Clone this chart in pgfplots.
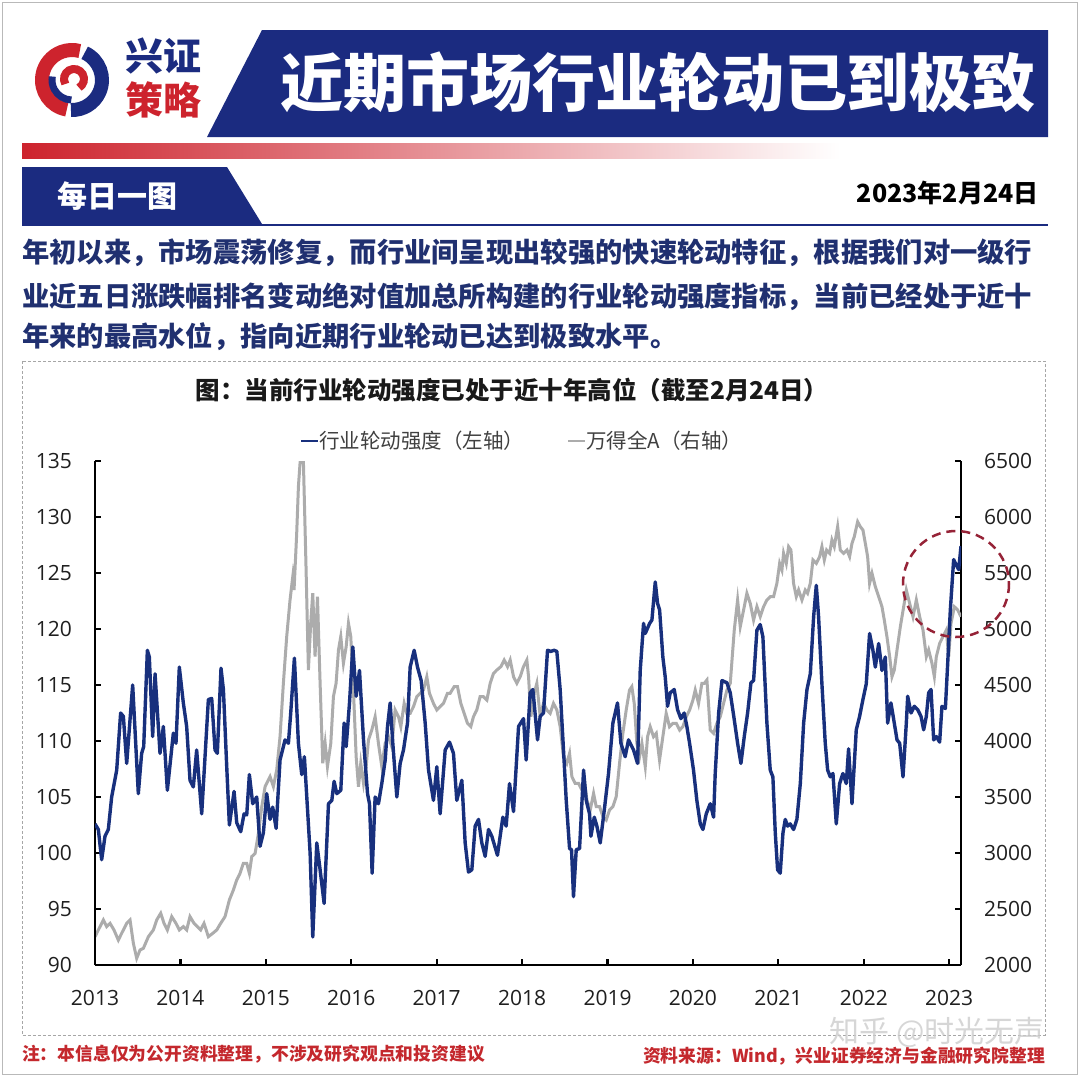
\documentclass[border=0pt]{standalone}
\usepackage{fontspec}
\setmainfont{Open Sans}
\newfontfamily\cjk{Noto Sans CJK SC}
\usepackage{pgfplots}
\pgfplotsset{compat=1.18}
\definecolor{navy}{RGB}{27,43,128}
\definecolor{textnavy}{RGB}{32,48,112}
\definecolor{lineblue}{RGB}{24,48,125}
\definecolor{linegray}{RGB}{172,172,172}
\definecolor{notered}{RGB}{196,40,45}
\definecolor{logored}{RGB}{205,35,45}
\definecolor{circred}{RGB}{150,35,55}

\pgfplotsset{
  twin/.style={
    at={(95pt,-965pt)}, anchor=south west, scale only axis,
    width=866pt, height=504pt,
    xmin=2013, xmax=2023.137,
    tick align=inside, major tick length=6pt,
    tick style={black, line width=2.2pt},
    axis line style={black, line width=2.5pt},
    tick label style={font=\fontsize{21}{21}\selectfont, text=black!88, inner sep=0pt},
    /pgf/number format/assume math mode=true,
    /pgf/number format/1000 sep={},
  }
}

\begin{document}
\begin{tikzpicture}[x=1pt,y=-1pt]
\useasboundingbox (0,0) rectangle (1080,1077);
\fill[white] (0,0) rectangle (1080,1077);
\draw[gray!55, line width=1.5pt] (2.5,2.5) rectangle (1077.5,1074.5);

% header: logo swirl
\draw[logored, line width=14pt] (72,80) ++(100:30) arc[start angle=100, end angle=285, radius=30];
\draw[navy, line width=14pt] (72,80) ++(-65:30) arc[start angle=-65, end angle=92, radius=30];
\draw[logored, line width=8pt] (74,79) ++(150:10) arc[start angle=150, end angle=420, radius=10];
\draw[navy, line width=7pt] (72,80) ++(92:20) arc[start angle=92, end angle=190, radius=20];
\node[font=\cjk\bfseries\fontsize{38}{38}\selectfont, text=navy] at (163,56) {兴证};
\node[font=\cjk\bfseries\fontsize{38}{38}\selectfont, text=logored] at (163,100) {策略};
\fill[navy] (262,30) -- (1048,30) -- (1048,137) -- (207,137) -- cycle;
\node[font=\cjk\bfseries\fontsize{63}{63}\selectfont, text=white] at (658,82) {近期市场行业轮动已到极致};
\shade[left color=logored, right color=white] (22,143) rectangle (840,158);
\fill[navy] (22,167) -- (227,167) -- (262,224) -- (22,224) -- cycle;
\node[font=\cjk\bfseries\fontsize{30}{30}\selectfont, text=white] at (117,196) {每日一图};
\draw[navy, line width=1.5pt] (22,225) -- (1048,225);
\node[font=\cjk\bfseries\fontsize{25}{25}\selectfont, text=black, anchor=east] at (1042,193) {2023年2月24日};

% paragraph
\begin{scope}[every node/.style={anchor=west, inner sep=0pt, text=textnavy, font=\cjk\bfseries\fontsize{27.3}{27.3}\selectfont}]
\node at (22,253) {年初以来，市场震荡修复，而行业间呈现出较强的快速轮动特征，根据我们对一级行};
\node at (22,297) {业近五日涨跌幅排名变动绝对值加总所构建的行业轮动强度指标，当前已经处于近十};
\node at (22,337) {年来的最高水位，指向近期行业轮动已达到极致水平。};
\end{scope}

% chart frame and titles
\draw[gray!70, line width=1pt, dash pattern=on 3pt off 2pt] (22,361) rectangle (1045,1035);
\node[font=\cjk\bfseries\fontsize{24.5}{24.5}\selectfont, text=black!90] at (512,390) {图：当前行业轮动强度已处于近十年高位（截至2月24日）};
\draw[lineblue, line width=2.5pt] (301,441) -- (318,441);
\node[anchor=west, inner sep=0pt, font=\cjk\fontsize{20.5}{20.5}\selectfont, text=black!75] at (319,441) {行业轮动强度（左轴）};
\draw[linegray, line width=2.5pt] (568,441) -- (585,441);
\node[anchor=west, inner sep=0pt, font=\cjk\fontsize{20.5}{20.5}\selectfont, text=black!75] at (586,441) {万得全A（右轴）};

% right axis: Wind All A
\begin{axis}[twin,
  axis y line*=right, axis x line=none, xtick=\empty,
  ymin=2000, ymax=6500, ytick={2000,2500,...,6500},
  yticklabel style={xshift=23pt},
]
\addplot[linegray, line width=3pt] coordinates {
(2013.000,2253) (2013.039,2313) (2013.098,2402) (2013.137,2343) (2013.176,2372)
(2013.222,2313) (2013.273,2223) (2013.312,2283) (2013.371,2372) (2013.410,2402)
(2013.449,2194) (2013.488,2060) (2013.527,2134) (2013.566,2149) (2013.625,2253)
(2013.683,2313) (2013.722,2402) (2013.769,2462) (2013.808,2372) (2013.847,2313)
(2013.898,2432) (2013.948,2372) (2013.987,2313) (2014.034,2343) (2014.073,2313)
(2014.112,2432) (2014.159,2372) (2014.198,2343) (2014.237,2313) (2014.276,2372)
(2014.327,2253) (2014.378,2283) (2014.425,2313) (2014.471,2372) (2014.522,2432)
(2014.573,2581) (2014.620,2670) (2014.659,2759) (2014.698,2819) (2014.737,2908)
(2014.776,2908) (2014.807,2819) (2014.835,2968) (2014.874,2997) (2014.913,3176)
(2014.952,3414) (2014.991,3593) (2015.049,3682) (2015.088,3593) (2015.127,3741)
(2015.166,4039) (2015.205,4515) (2015.244,4932) (2015.283,5259) (2015.315,5467)
(2015.330,5348) (2015.361,5854) (2015.381,6271) (2015.400,6479) (2015.420,6620)
(2015.439,6509) (2015.470,5557) (2015.498,4634) (2015.525,5051) (2015.549,5319)
(2015.576,4753) (2015.604,5289) (2015.635,4515) (2015.666,3801) (2015.694,3979)
(2015.721,3771) (2015.760,3979) (2015.791,4396) (2015.822,4515) (2015.850,4813)
(2015.877,4932) (2015.908,4694) (2015.940,4842) (2015.967,5051) (2015.994,4932)
(2016.025,4455) (2016.057,3860) (2016.084,3592) (2016.111,3801) (2016.143,3622)
(2016.174,3771) (2016.201,4009) (2016.240,4098) (2016.279,4217) (2016.318,3979)
(2016.357,3771) (2016.397,3979) (2016.436,4039) (2016.474,3950) (2016.513,4277)
(2016.553,4217) (2016.580,4128) (2016.619,4336) (2016.650,4247) (2016.689,4247)
(2016.728,4307) (2016.767,4396) (2016.806,4426) (2016.845,4455) (2016.884,4574)
(2016.915,4426) (2016.962,4336) (2017.001,4277) (2017.040,4307) (2017.079,4336)
(2017.126,4426) (2017.157,4426) (2017.204,4485) (2017.243,4485) (2017.282,4336)
(2017.321,4247) (2017.360,4158) (2017.399,4128) (2017.430,4217) (2017.469,4277)
(2017.508,4396) (2017.547,4396) (2017.587,4366) (2017.626,4515) (2017.665,4604)
(2017.704,4634) (2017.751,4664) (2017.790,4723) (2017.829,4664) (2017.860,4723)
(2017.899,4574) (2017.938,4515) (2017.977,4574) (2018.016,4664) (2018.055,4723)
(2018.075,4574) (2018.102,4217) (2018.141,4426) (2018.172,4515) (2018.211,4217)
(2018.250,4336) (2018.289,4277) (2018.328,4247) (2018.367,4336) (2018.406,4277)
(2018.445,4128) (2018.484,3860) (2018.523,3801) (2018.555,3890) (2018.582,3682)
(2018.621,3622) (2018.660,3622) (2018.699,3563) (2018.727,3652) (2018.758,3473)
(2018.797,3384) (2018.836,3533) (2018.867,3414) (2018.906,3414) (2018.945,3325)
(2018.984,3295) (2019.023,3384) (2019.062,3414) (2019.101,3503) (2019.140,3801)
(2019.179,4069) (2019.218,4277) (2019.257,4455) (2019.284,4485) (2019.312,4336)
(2019.343,3979) (2019.374,3860) (2019.402,3979) (2019.441,3771) (2019.468,4039)
(2019.499,4128) (2019.538,4039) (2019.570,4069) (2019.608,3830) (2019.647,4039)
(2019.686,4247) (2019.725,4128) (2019.765,4158) (2019.804,4158) (2019.843,4098)
(2019.882,4128) (2019.921,4217) (2019.960,4277) (2019.999,4366) (2020.026,4455)
(2020.065,4336) (2020.104,4515) (2020.132,4515) (2020.163,4545) (2020.202,4098)
(2020.241,4069) (2020.280,4158) (2020.319,4217) (2020.358,4336) (2020.397,4455)
(2020.436,4515) (2020.483,4991) (2020.522,5259) (2020.553,5021) (2020.592,5170)
(2020.631,5319) (2020.670,5229) (2020.709,5080) (2020.748,5199) (2020.787,5110)
(2020.826,5199) (2020.865,5259) (2020.904,5289) (2020.943,5289) (2020.982,5408)
(2021.014,5586) (2021.041,5527) (2021.060,5676) (2021.092,5586) (2021.119,5735)
(2021.146,5705) (2021.177,5408) (2021.209,5289) (2021.236,5348) (2021.275,5259)
(2021.314,5348) (2021.341,5319) (2021.373,5408) (2021.404,5616) (2021.443,5586)
(2021.482,5646) (2021.509,5735) (2021.537,5616) (2021.564,5705) (2021.599,5676)
(2021.626,5795) (2021.654,5735) (2021.693,5914) (2021.724,5705) (2021.763,5676)
(2021.802,5705) (2021.833,5646) (2021.861,5765) (2021.888,5825) (2021.927,5958)
(2021.958,5914) (2021.989,5884) (2022.017,5765) (2022.044,5646) (2022.067,5408)
(2022.095,5497) (2022.134,5378) (2022.173,5289) (2022.212,5199) (2022.239,5080)
(2022.270,4932) (2022.302,4753) (2022.329,4574) (2022.356,4634) (2022.388,4813)
(2022.427,5021) (2022.466,5199) (2022.497,5348) (2022.536,5229) (2022.575,5110)
(2022.614,5259) (2022.653,5110) (2022.692,4991) (2022.731,4753) (2022.758,4813)
(2022.797,4694) (2022.825,4574) (2022.848,4753) (2022.887,4872) (2022.926,4932)
(2022.965,4991) (2022.993,4753) (2023.020,5051) (2023.059,5199) (2023.098,5170)
(2023.137,5110)
};
\end{axis}

% left axis: rotation intensity
\begin{axis}[twin,
  axis y line*=left, axis x line*=bottom,
  ymin=90, ymax=135, ytick={90,95,...,135},
  xtick={2013,2014,...,2023},
  yticklabel style={xshift=-23pt},
  xticklabel style={yshift=-25pt},
]
\addplot[lineblue, line width=3.4pt, line join=round] coordinates {
(2013.000,102.6) (2013.039,102.1) (2013.078,99.4) (2013.117,101.5) (2013.156,102.1)
(2013.195,105.0) (2013.254,107.4) (2013.300,112.5) (2013.332,112.2) (2013.371,108.0)
(2013.441,115.0) (2013.507,105.3) (2013.546,108.9) (2013.570,109.5) (2013.613,118.1)
(2013.636,117.5) (2013.675,110.4) (2013.703,116.0) (2013.761,108.9) (2013.800,111.3)
(2013.847,105.6) (2013.917,110.7) (2013.948,109.8) (2013.987,116.6) (2014.034,113.4)
(2014.073,111.3) (2014.112,106.5) (2014.151,105.9) (2014.190,109.2) (2014.249,103.5)
(2014.288,108.6) (2014.327,113.7) (2014.366,113.8) (2014.405,109.2) (2014.432,108.9)
(2014.475,116.5) (2014.503,114.6) (2014.542,107.7) (2014.573,102.5) (2014.628,105.5)
(2014.659,102.7) (2014.706,101.9) (2014.745,103.5) (2014.776,103.4) (2014.807,107.0)
(2014.846,104.4) (2014.893,105.0) (2014.932,100.6) (2014.971,101.8) (2015.010,105.3)
(2015.049,103.0) (2015.080,104.1) (2015.120,102.2) (2015.166,108.3) (2015.225,110.1)
(2015.264,109.8) (2015.291,112.5) (2015.334,117.4) (2015.381,109.8) (2015.420,107.0)
(2015.451,108.6) (2015.518,100.0) (2015.549,92.5) (2015.596,100.9) (2015.635,98.5)
(2015.682,95.5) (2015.733,104.4) (2015.772,104.7) (2015.799,106.4) (2015.830,105.3)
(2015.877,105.6) (2015.916,111.6) (2015.940,109.5) (2015.979,113.4) (2016.018,118.4)
(2016.057,114.0) (2016.096,116.3) (2016.143,110.1) (2016.190,105.3) (2016.213,104.4)
(2016.244,98.2) (2016.279,105.0) (2016.318,104.4) (2016.357,106.2) (2016.397,108.3)
(2016.424,111.3) (2016.455,113.4) (2016.486,109.8) (2016.533,105.0) (2016.572,108.0)
(2016.611,109.2) (2016.658,111.6) (2016.689,116.6) (2016.736,118.1) (2016.775,116.6)
(2016.818,115.4) (2016.865,111.6) (2016.904,107.4) (2016.962,104.7) (2017.001,107.7)
(2017.040,103.5) (2017.099,109.2) (2017.150,109.9) (2017.196,108.9) (2017.235,104.7)
(2017.294,106.5) (2017.333,100.9) (2017.372,98.3) (2017.411,98.5) (2017.450,102.4)
(2017.489,103.0) (2017.528,100.9) (2017.567,99.7) (2017.606,102.1) (2017.645,101.5)
(2017.711,99.8) (2017.774,103.2) (2017.813,102.4) (2017.852,106.2) (2017.899,103.7)
(2017.958,111.3) (2018.016,112.0) (2018.047,108.3) (2018.094,114.3) (2018.125,114.6)
(2018.133,114.0) (2018.180,110.1) (2018.211,112.2) (2018.250,112.5) (2018.297,118.1)
(2018.336,118.0) (2018.375,118.1) (2018.406,118.0) (2018.445,114.6) (2018.484,109.2)
(2018.516,104.7) (2018.555,100.4) (2018.578,100.3) (2018.601,96.1) (2018.633,100.3)
(2018.672,100.4) (2018.699,104.4) (2018.719,107.4) (2018.750,104.7) (2018.789,103.5)
(2018.805,101.5) (2018.844,103.2) (2018.875,102.4) (2018.914,100.9) (2018.961,103.8)
(2019.011,107.1) (2019.062,111.6) (2019.116,113.4) (2019.156,109.8) (2019.206,108.6)
(2019.245,110.1) (2019.304,109.2) (2019.351,108.0) (2019.382,116.3) (2019.421,120.5)
(2019.441,119.6) (2019.492,120.5) (2019.519,120.8) (2019.558,124.2) (2019.585,122.3)
(2019.609,121.7) (2019.647,117.5) (2019.675,115.7) (2019.702,113.1) (2019.733,114.3)
(2019.780,114.6) (2019.819,112.8) (2019.858,112.0) (2019.897,112.5) (2019.928,111.3)
(2019.960,109.8) (2020.006,107.4) (2020.045,104.7) (2020.085,102.6) (2020.116,102.1)
(2020.155,103.5) (2020.202,104.4) (2020.241,103.2) (2020.260,107.1) (2020.300,112.5)
(2020.339,115.4) (2020.397,115.2) (2020.436,114.3) (2020.483,111.9) (2020.522,109.8)
(2020.561,108.0) (2020.600,110.4) (2020.639,112.5) (2020.678,115.2) (2020.709,115.4)
(2020.748,119.9) (2020.787,120.4) (2020.818,119.3) (2020.865,111.6) (2020.904,107.4)
(2020.935,106.8) (2020.963,101.8) (2020.990,98.5) (2021.021,98.2) (2021.053,101.8)
(2021.080,103.0) (2021.107,102.4) (2021.138,102.6) (2021.177,102.1) (2021.216,103.0)
(2021.256,106.2) (2021.295,111.6) (2021.334,114.6) (2021.373,116.0) (2021.412,121.1)
(2021.443,123.9) (2021.470,121.1) (2021.509,115.1) (2021.548,109.8) (2021.576,107.4)
(2021.607,106.8) (2021.638,107.1) (2021.677,102.6) (2021.716,106.2) (2021.755,107.1)
(2021.794,106.2) (2021.821,109.3) (2021.861,104.4) (2021.911,111.0) (2021.950,112.2)
(2021.989,113.7) (2022.028,115.1) (2022.067,119.6) (2022.106,118.1) (2022.134,116.6)
(2022.173,118.7) (2022.212,116.3) (2022.251,117.5) (2022.278,111.6) (2022.317,113.4)
(2022.356,111.6) (2022.388,110.1) (2022.419,109.8) (2022.458,106.8) (2022.497,111.6)
(2022.513,114.0) (2022.552,112.5) (2022.591,113.1) (2022.630,112.8) (2022.669,112.2)
(2022.700,111.0) (2022.731,112.2) (2022.758,114.3) (2022.786,114.6) (2022.817,110.1)
(2022.848,110.4) (2022.887,109.9) (2022.914,113.1) (2022.954,112.9) (2022.981,116.9)
(2023.012,121.7) (2023.051,126.2) (2023.082,125.7) (2023.110,125.3) (2023.137,127.4)
};
\end{axis}

\draw[circred, line width=2.5pt, dash pattern=on 9pt off 6pt] (956,584) circle (53);

% footer
\node[anchor=west, inner sep=0pt, font=\cjk\bfseries\fontsize{17.8}{17.8}\selectfont, text=notered] at (22,1054) {注：本信息仅为公开资料整理，不涉及研究观点和投资建议};
\node[anchor=east, inner sep=0pt, font=\cjk\bfseries\fontsize{17.8}{17.8}\selectfont, text=notered] at (1045,1056) {资料来源：Wind，兴业证券经济与金融研究院整理};
\node[anchor=east, inner sep=0pt, font=\cjk\fontsize{30}{30}\selectfont, text=gray!40, opacity=0.8] at (1045,1032) {知乎 @时光无声};
\end{tikzpicture}
\end{document}
